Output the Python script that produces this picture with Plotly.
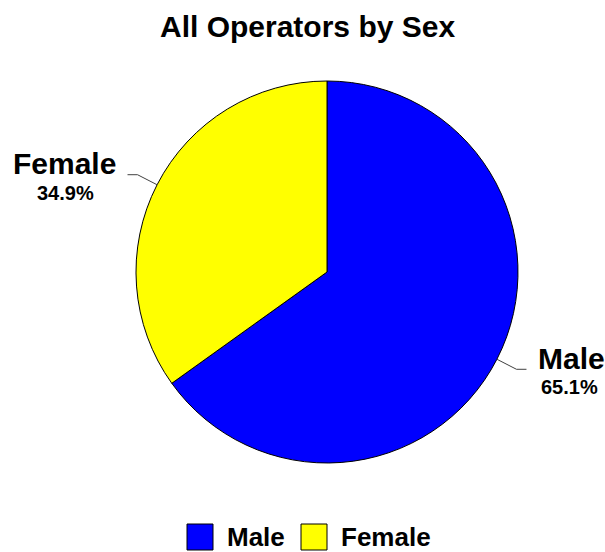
import math
import plotly.graph_objects as go

labels = ["Male", "Female"]
values = [65.1, 34.9]
colors = ["#0000FF", "#FFFF00"]
title_text = "All Operators by Sex"

W, H = 605, 552
CX, CY, R = 327, 272, 191
FONT = "Liberation Sans, Arial, sans-serif"

# approximate Arial Bold advance widths (em) for centring the percentage under its label
CHAR_W = {"M": .833, "a": .556, "l": .278, "e": .556, "F": .611, "m": .889}


def text_w(s, size):
    return sum(CHAR_W.get(c, .556) for c in s) * size


def px(x):
    return x / W


def py(y):
    return 1 - y / H


fig = go.Figure()
fig.add_trace(go.Pie(
    labels=labels, values=values, sort=False, direction="clockwise", rotation=0,
    marker=dict(colors=colors, line=dict(color="black", width=1)),
    textinfo="none", hoverinfo="label+percent", showlegend=False,
    domain=dict(x=[px(CX - R), px(CX + R)], y=[py(CY + R), py(CY - R)]),
))

shapes = []
annotations = []
total = sum(values)
cum = 0.0
for lab, val in zip(labels, values):
    mid = (cum + val / 2) / total * 2 * math.pi
    cum += val
    sx, sy = math.sin(mid), -math.cos(mid)
    ex, ey = CX + R * sx, CY + R * sy
    bx, by = CX + (R + 22) * sx, CY + (R + 22) * sy
    side = 1 if sx >= 0 else -1
    hx = bx + 10 * side
    shapes.append(dict(type="path", xref="paper", yref="paper",
                       path=f"M {px(ex)} {py(ey)} L {px(bx)} {py(by)} L {px(hx)} {py(by)}",
                       line=dict(color="#404040", width=1)))
    tx = hx + 10 * side
    anchor = "left" if side > 0 else "right"
    annotations.append(dict(x=px(tx), y=py(by - 11), xref="paper", yref="paper",
                            text=f"<b>{lab}</b>", showarrow=False, xanchor=anchor,
                            yanchor="middle", font=dict(family=FONT, size=30, color="black")))
    lab_center = tx + side * text_w(lab, 30) / 2
    pct = f"{val / total * 100:.1f}%"
    annotations.append(dict(x=px(lab_center), y=py(by + 18), xref="paper", yref="paper",
                            text=f"<b>{pct}</b>", showarrow=False, xanchor="center",
                            yanchor="middle", font=dict(family=FONT, size=20, color="black")))

# Title
annotations.append(dict(x=px(307), y=py(27), xref="paper", yref="paper",
                        text=f"<b>{title_text}</b>", showarrow=False, xanchor="center",
                        yanchor="middle", font=dict(family=FONT, size=30, color="black")))

# Manual legend
leg_x = [187, 301]
for lab, col, lx in zip(labels, colors, leg_x):
    shapes.append(dict(type="rect", xref="paper", yref="paper",
                       x0=px(lx), x1=px(lx + 26), y0=py(550), y1=py(524),
                       fillcolor=col, line=dict(color="black", width=1)))
    annotations.append(dict(x=px(lx + 38), y=py(537), xref="paper", yref="paper",
                            text=f"<b>{lab}</b>", showarrow=False, xanchor="left",
                            yanchor="middle", font=dict(family=FONT, size=26, color="black")))

fig.update_layout(
    width=W, height=H, margin=dict(l=0, r=0, t=0, b=0),
    paper_bgcolor="white", plot_bgcolor="white",
    shapes=shapes, annotations=annotations, showlegend=False,
)
fig.write_html("out.html", config={"displayModeBar": False},
               post_script="document.body.style.margin='0';document.body.style.overflow='hidden';")
